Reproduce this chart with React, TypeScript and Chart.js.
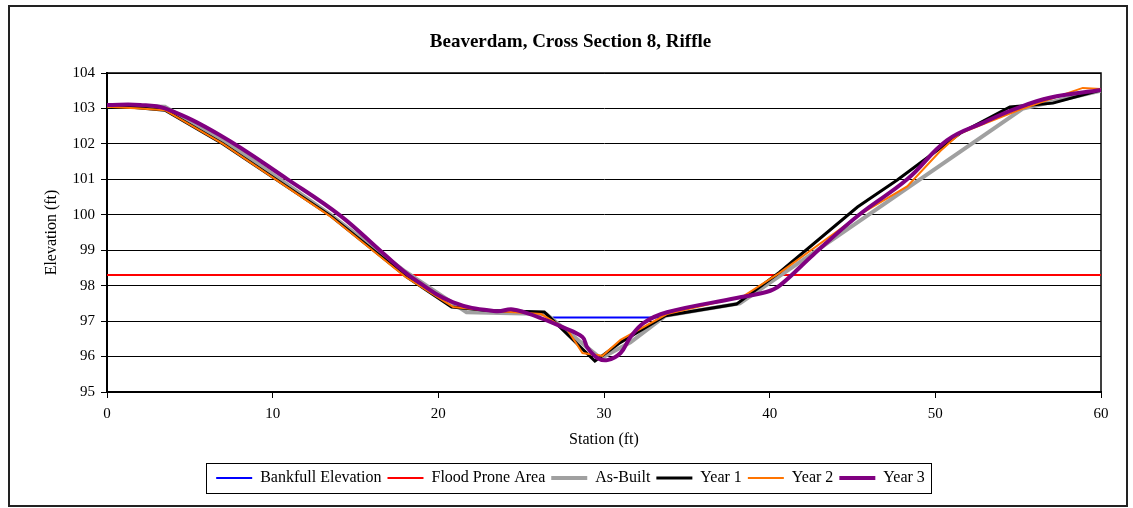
import React, { useEffect, useRef } from "react";
import { Chart, registerables } from "chart.js";
Chart.register(...registerables);

const chartTitle = "Beaverdam, Cross Section 8, Riffle";
const xTitle = "Station (ft)";
const yTitle = "Elevation (ft)";
const seriesNames = ["Bankfull Elevation", "Flood Prone Area", "As-Built", "Year 1", "Year 2", "Year 3"];

const bankfullStation = [26.9, 33.6];
const bankfullElev = [97.1, 97.1];

const floodStation = [0, 60];
const floodElev = [98.3, 98.3];

const asBuiltStation = [0, 3.5, 8, 13.5, 18, 21.7, 26.5, 29.8, 31.6, 33.7, 38.2, 55.3, 60];
const asBuiltElev = [103.1, 103.05, 101.8, 100.0, 98.4, 97.25, 97.2, 95.95, 96.4, 97.15, 97.5, 103.0, 103.5];

const year1Station = [0, 3.5, 7, 13.5, 18.1, 20.8, 23, 26.4, 29.45, 31, 33.7, 38, 40.6, 45.3, 47.7, 51.5, 54.5, 57.1, 60];
const year1Elev = [103.1, 102.95, 102.0, 99.97, 98.24, 97.4, 97.3, 97.26, 95.87, 96.4, 97.15, 97.48, 98.38, 100.22, 100.98, 102.3, 103.04, 103.15, 103.52];

const year2Station = [0, 2, 3.5, 7, 13.5, 18, 20.9, 23, 26.2, 27.8, 28.7, 29.9, 31, 33.8, 38.4, 40.6, 45.6, 48.3, 50.3, 51.5, 55.3, 58.9, 60];
const year2Elev = [103.05, 103.0, 102.95, 102.0, 99.95, 98.25, 97.4, 97.3, 97.2, 96.75, 96.1, 96.02, 96.47, 97.2, 97.7, 98.36, 100.05, 100.8, 101.8, 102.3, 103.0, 103.58, 103.55];

const year3Station = [0, 2, 3.5, 6.8, 10.9, 14.1, 16.7, 18.5, 20.9, 23.5, 24.5, 26.1, 27.5, 28.7, 29.0, 29.6, 30.2, 31.0, 31.6, 32.4, 33.8, 38.0, 39.8, 40.6, 42.6, 45.4, 48.3, 50.7, 52.9, 54.9, 56.9, 60];
const year3Elev = [103.1, 103.1, 103.0, 102.25, 101.0, 99.97, 98.9, 98.2, 97.53, 97.28, 97.33, 97.1, 96.83, 96.55, 96.25, 95.96, 95.9, 96.1, 96.55, 96.95, 97.25, 97.65, 97.82, 98.0, 98.86, 100.0, 101.0, 102.1, 102.6, 103.0, 103.3, 103.52];

const xMin = 0, xMax = 60, xStep = 10;
const yMin = 95, yMax = 104, yStep = 1;

const pts = (xs: number[], ys: number[]) => xs.map((x, i) => ({ x, y: ys[i] }));

const FONT = "'Liberation Serif', 'Times New Roman', serif";

const frame = {
  id: "frame",
  beforeDatasetsDraw(chart: any) {
    const { ctx, chartArea: a } = chart;
    ctx.save();
    ctx.strokeStyle = "#000";
    ctx.lineWidth = 1.5;
    ctx.strokeRect(a.left, a.top, a.right - a.left, a.bottom - a.top);
    ctx.restore();
  },
  afterDraw(chart: any) {
    const lg = chart.legend;
    if (!lg || !lg.legendHitBoxes || !lg.legendHitBoxes.length) return;
    const hb = lg.legendHitBoxes;
    const first = hb[0];
    const last = hb[hb.length - 1];
    const left = first.left - 10;
    const right = last.left + last.width + 6;
    const top = first.top - 7;
    const bottom = first.top + first.height + 7;
    const { ctx } = chart;
    ctx.save();
    ctx.strokeStyle = "#000";
    ctx.lineWidth = 1;
    ctx.strokeRect(Math.round(left) + 0.5, Math.round(top) + 0.5, Math.round(right - left), Math.round(bottom - top));
    ctx.restore();
  },
};

export default function App() {
  const ref = useRef<HTMLCanvasElement>(null);
  useEffect(() => {
    const chart = new Chart(ref.current!, {
      type: "scatter",
      data: {
        datasets: [
          { label: seriesNames[0], data: pts(bankfullStation, bankfullElev), borderColor: "#0000FF", backgroundColor: "#0000FF", borderWidth: 2, showLine: true, pointRadius: 0, order: 6 },
          { label: seriesNames[1], data: pts(floodStation, floodElev), borderColor: "#FF0000", backgroundColor: "#FF0000", borderWidth: 2, showLine: true, pointRadius: 0, order: 5 },
          { label: seriesNames[2], data: pts(asBuiltStation, asBuiltElev), borderColor: "#A0A0A0", backgroundColor: "#A0A0A0", borderWidth: 4, showLine: true, pointRadius: 0, order: 4 },
          { label: seriesNames[3], data: pts(year1Station, year1Elev), borderColor: "#000000", backgroundColor: "#000000", borderWidth: 3, showLine: true, pointRadius: 0, order: 3 },
          { label: seriesNames[4], data: pts(year2Station, year2Elev), borderColor: "#FF7400", backgroundColor: "#FF7400", borderWidth: 2, showLine: true, pointRadius: 0, order: 2 },
          { label: seriesNames[5], data: pts(year3Station, year3Elev), borderColor: "#800080", backgroundColor: "#800080", borderWidth: 4, showLine: true, pointRadius: 0, tension: 0.4, order: 1 },
        ] as any,
      },
      options: {
        animation: false,
        responsive: false,
        maintainAspectRatio: false,
        layout: { padding: { left: 30, right: 25, top: 10, bottom: 9 } },
        plugins: {
          title: {
            display: true,
            text: chartTitle,
            color: "#000",
            font: { family: FONT, size: 19, weight: "bold" },
            padding: { top: 13.6, bottom: 19.6 },
          },
          legend: {
            position: "bottom",
            labels: {
              color: "#000",
              font: { family: FONT, size: 16 },
              usePointStyle: true,
              pointStyle: "line",
              pointStyleWidth: 36,
              padding: 6,
              sort: (a: any, b: any) => a.datasetIndex - b.datasetIndex,
            },
          },
          tooltip: { enabled: false },
        },
        scales: {
          x: {
            type: "linear",
            min: xMin,
            max: xMax,
            afterFit: (s: any) => { s.height = 72; },
            ticks: { stepSize: xStep, color: "#000", font: { family: FONT, size: 15 }, padding: 7, maxRotation: 0 },
            grid: { drawOnChartArea: false, drawTicks: true, tickLength: 6, color: "#000" },
            border: { color: "#000", width: 2 },
            title: { display: true, text: xTitle, color: "#000", font: { family: FONT, size: 16 }, padding: { top: 0, bottom: 14.4 } },
          },
          y: {
            type: "linear",
            min: yMin,
            max: yMax,
            afterFit: (s: any) => { s.width = 67; },
            ticks: { stepSize: yStep, color: "#000", font: { family: FONT, size: 15 }, padding: 6 },
            grid: { color: "#000", lineWidth: 1, tickLength: 6, drawTicks: true },
            border: { color: "#000", width: 2 },
            title: { display: true, text: yTitle, color: "#000", font: { family: FONT, size: 16 }, padding: { top: 2.4, bottom: 0 } },
          },
        },
      } as any,
      plugins: [frame],
    });
    return () => chart.destroy();
  }, []);
  return (
    <div style={{ position: "absolute", left: 8, top: 5, width: 1116, height: 498, border: "2px solid #222", background: "#fff" }}>
      <canvas ref={ref} width={1116} height={498} style={{ display: "block" }} />
    </div>
  );
}
